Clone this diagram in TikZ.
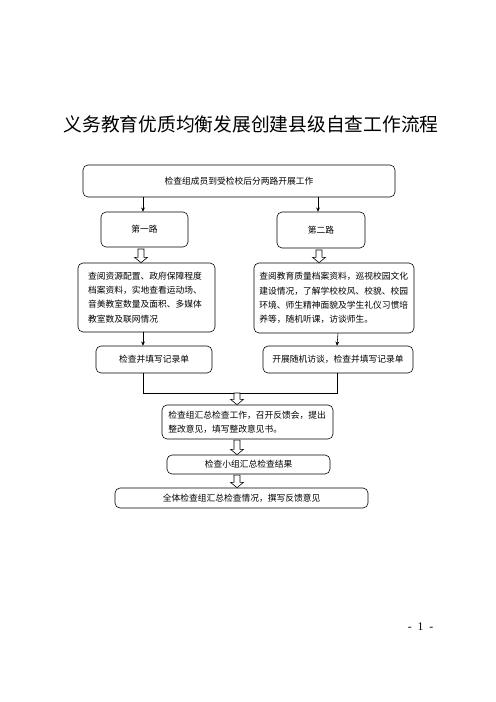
\documentclass[tikz,border=0pt]{standalone}
\usepackage{fontspec}
\newfontfamily\cjk{Noto Sans CJK SC}
\newfontfamily\numfont{Liberation Serif}
\usetikzlibrary{calc,arrows.meta}
\tikzset{
  box/.style={draw=black, line width=0.7pt, rounded corners=6pt, inner sep=0pt,
    font=\cjk\fontsize{10.5}{17}\selectfont, align=center},
  arr/.style={line width=0.7pt, -{Stealth[length=5pt,width=4.5pt]}},
  joinline/.style={line width=0.7pt},
  hollow/.style={draw=black, line width=0.7pt, fill=white, line join=miter},
}
\newcommand\harrow[2]{%
  \draw[hollow] let \p1=#1, \p2=#2 in
    (\x1-3.6pt,\y1) -- (\x1+3.6pt,\y1) -- (\x1+3.6pt,\y2+6.5pt) --
    (\x1+7.8pt,\y2+6.5pt) -- (\x1,\y2) -- (\x1-7.8pt,\y2+6.5pt) --
    (\x1-3.6pt,\y2+6.5pt) -- cycle;}
\begin{document}
\begin{tikzpicture}[x=1.2pt,y=-1.2pt]
\useasboundingbox (0,0) rectangle (496,702);
\node[font=\cjk\fontsize{22.5}{26}\selectfont, inner sep=0pt] (title) at (251,124) {义务教育优质均衡发展创建县级自查工作流程};

\node[box, minimum width=374.4pt, minimum height=38.4pt] (top) at (239,181) {检查组成员到受检校后分两路开展工作};
\node[box, minimum width=104.4pt, minimum height=42pt] (r1) at (144.5,229.5) {第一路};
\node[box, minimum width=105.6pt, minimum height=43.2pt] (r2) at (321,230) {第二路};

\node[box, minimum width=164.4pt, minimum height=82.8pt, text width=140pt, inner xsep=12.2pt, align=left] (L) at (146.5,297.5)
  {查阅资源配置、政府保障程度\\档案资料，实地查看运动场、\\音美教室数量及面积、多媒体\\教室数及联网情况};
\node[box, minimum width=192pt, minimum height=84pt, text width=179pt, inner xsep=6.5pt, align=left] (R) at (334,298)
  {查阅教育质量档案资料，巡视校园文化\\建设情况，了解学校校风、校貌、校园\\环境、师生精神面貌及学生礼仪习惯培\\养等，随机听课，访谈师生。};

\node[box, minimum width=139.2pt, minimum height=32.4pt] (L2) at (154,359.5) {检查并填写记录单};
\node[box, minimum width=180pt, minimum height=32.4pt] (R2) at (338,359.5) {开展随机访谈，检查并填写记录单};

\node[box, minimum width=205.2pt, minimum height=40.8pt, text width=190pt, inner xsep=7.6pt, align=left] (S) at (247.5,422)
  {检查组汇总检查工作，召开反馈会，提出\\整改意见，填写整改意见书。};
\node[box, minimum width=195.6pt, minimum height=22.8pt] (T) at (248.5,464.5) {检查小组汇总检查结果};
\node[box, minimum width=303.6pt, minimum height=24pt] (U) at (241.5,498) {全体检查组汇总检查情况，撰写反馈意见};

\node[font=\numfont\fontsize{14}{16}\selectfont, inner sep=0pt] (pg) at (420.5,627) {-\hspace{7pt}1\hspace{7pt}-};

% thin arrows
\draw[arr] ([xshift=-1.8pt]top.south -| r1.north) -- ([xshift=-1.8pt]r1.north);
\draw[arr] ([xshift=-3.6pt]top.south -| r2.north) -- ([xshift=-3.6pt]r2.north);
\draw[arr] ([xshift=-4.2pt]L.south) -- ([xshift=-4.2pt]L.south |- L2.north);
\draw[arr] (R.south -| R2.north) -- ([xshift=-1.2pt]R2.north);

% hollow arrows
\harrow{([xshift=-4.2pt,yshift=-2pt]r1.south)}{(L.north)}
\harrow{([xshift=-2.4pt,yshift=-2pt]r2.south)}{(R.north)}

% join
\coordinate (j1) at (143,393);
\coordinate (j2) at (337,393);
\coordinate (j) at (237,393);
\draw[joinline] (L2.south -| j1) -- (j1) -- (j2) -- (R2.south -| j2);
\harrow{(j)}{(S.north -| j)}
\harrow{([yshift=-1pt]S.south -| j)}{(T.north -| j)}
\harrow{([yshift=-1pt]T.south -| j)}{(U.north -| j)}
\end{tikzpicture}
\end{document}
